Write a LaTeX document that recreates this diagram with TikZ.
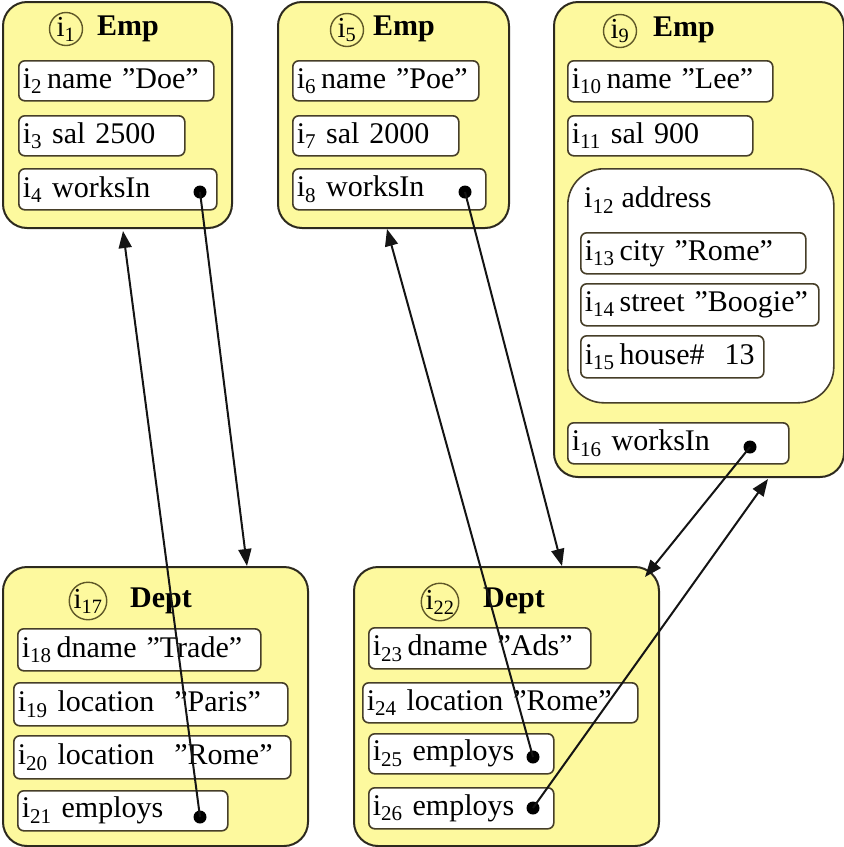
\documentclass[tikz,border=0pt]{standalone}
\usepackage{fontspec}
\setmainfont{Liberation Serif}
\usetikzlibrary{arrows.meta}
\definecolor{empfill}{RGB}{253,249,158}
\definecolor{edgecol}{RGB}{45,42,30}
\definecolor{iedge}{RGB}{70,62,40}
\definecolor{cedge}{RGB}{95,88,40}
\newcommand{\ix}[1]{i\textsubscript{#1}}
\newcommand{\ibox}[6]{\node[ibox, text width={(#4-8)*1pt}, minimum height=#5pt, anchor=north west] (#1) at (#2,#3) {#6};}
\newcommand{\obox}[5]{\node[obox, minimum width=#4pt, minimum height=#5pt, anchor=north west] (#1) at (#2,#3) {};}
\tikzset{
  every node/.style={font=\fontsize{30}{34}\selectfont},
  obox/.style={draw=edgecol, line width=2pt, fill=empfill, rounded corners=24pt, inner sep=0pt},
  ibox/.style={draw=iedge, line width=1.6pt, fill=white, rounded corners=6pt, inner xsep=4pt, inner ysep=0pt, align=left},
  abox/.style={draw=iedge, line width=1.6pt, fill=white, rounded corners=36pt, inner sep=0pt},
  idc/.style={draw=cedge, line width=1.4pt, circle, minimum size=33pt, inner sep=0pt, font=\fontsize{29}{30}\selectfont},
  ttl/.style={anchor=west, inner sep=0pt, font=\fontsize{30}{34}\selectfont\bfseries},
  dot/.style={circle, fill=black, minimum size=13pt, inner sep=0pt},
  link/.style={line width=2pt, draw=black!92, -{Triangle[length=17pt,width=13pt]}},
}
\begin{document}
\begin{tikzpicture}[x=1pt,y=-1pt]
\useasboundingbox (0,0) rectangle (844,847);
% ---- Emp i1
\obox{e1}{2}{1}{229}{226}
\node[idc] (c1) at (66,29) {\ix{1}};
\node[ttl] (t1) at (97,29) {Emp};
\ibox{b2}{18}{60}{195}{40}{\ix{2}\,name ”Doe”}
\ibox{b3}{18}{115}{166}{40}{\ix{3} sal 2500}
\ibox{b4}{18}{168}{198}{41}{\ix{4} worksIn}
\node[dot] (p4) at (200,192) {};
% ---- Emp i5
\obox{e5}{277}{1}{231}{226}
\node[idc] (c5) at (347,30) {\ix{5}};
\node[ttl] (t5) at (373,29) {Emp};
\ibox{b6}{292}{60}{186}{40}{\ix{6}\,name ”Poe”}
\ibox{b7}{292}{115}{166}{40}{\ix{7} sal 2000}
\ibox{b8}{292}{168}{193}{41}{\ix{8} worksIn}
\node[dot] (p8) at (465,192) {};
% ---- Emp i9
\obox{e9}{553}{1}{290}{475}
\node[idc] (c9) at (620,31) {\ix{9}};
\node[ttl] (t9) at (653,30) {Emp};
\ibox{b10}{567}{60}{205}{41}{\ix{10}\,name ”Lee”}
\ibox{b11}{567}{115}{185}{40}{\ix{11} sal 900}
\node[abox, minimum width=266pt, minimum height=234pt, anchor=north west] (a12) at (567,168) {};
\node[anchor=west, inner sep=0pt] (t12) at (584,200) {\ix{12} address};
\ibox{b13}{580}{232}{225}{41}{\ix{13}\,city ”Rome”}
\ibox{b14}{580}{283}{238}{42}{\ix{14}\,street ”Boogie”}
\ibox{b15}{580}{335}{183}{42}{\ix{15}\,house\#\ \ 13}
\ibox{b16}{567}{422}{221}{41}{\ix{16} worksIn}
\node[dot] (p16) at (750,447) {};
% ---- Dept i17
\obox{d17}{2}{566}{305}{279}
\node[idc] (c17) at (88,601) {\ix{17}};
\node[ttl] (t17) at (130,601) {Dept};
\ibox{b18}{17}{628}{243}{42}{\ix{18}\,dname ”Trade”}
\ibox{b19}{13}{682}{274}{43}{\ix{19} location\ \ ”Paris”}
\ibox{b20}{13}{735}{277}{43}{\ix{20} location\ \ ”Rome”}
\ibox{b21}{17}{790}{210}{40}{\ix{21} employs}
\node[dot] (p21) at (200,817) {};
% ---- Dept i22
\obox{d22}{353}{566}{305}{279}
\node[idc] (c22) at (440,602) {\ix{22}};
\node[ttl] (t22) at (483,601) {Dept};
\ibox{b23}{368}{627}{222}{41}{\ix{23}\,dname ”Ads”}
\ibox{b24}{362}{682}{275}{40}{\ix{24} location ”Rome”}
\ibox{b25}{368}{733}{185}{40}{\ix{25} employs}
\node[dot] (p25) at (533,757) {};
\ibox{b26}{368}{787}{185}{41}{\ix{26} employs}
\node[dot] (p26) at (533,808) {};
% ---- arrow targets
\coordinate (q1) at (247,566);
\coordinate (q2) at (123,231);
\coordinate (q3) at (562,566);
\coordinate (q4) at (387,229);
\coordinate (q5) at (645,577);
\coordinate (q6) at (768,479);
% ---- links
\draw[link] (p4.center) -- (q1);
\draw[link] (p21.center) -- (q2);
\draw[link] (p8.center) -- (q3);
\draw[link] (p25.center) -- (q4);
\draw[link] (p16.center) -- (q5);
\draw[link] (p26.center) -- (q6);
\end{tikzpicture}
\end{document}
